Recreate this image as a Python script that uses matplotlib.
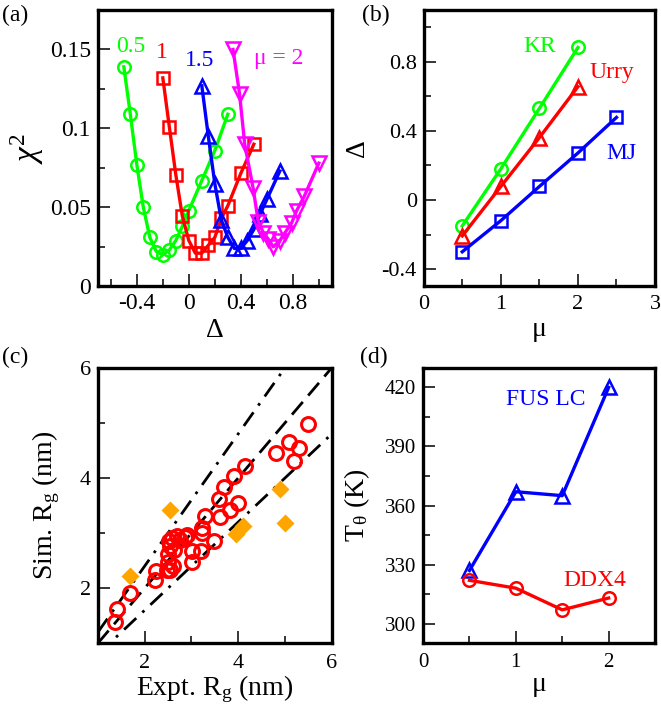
import matplotlib
matplotlib.use('Agg')
import matplotlib.pyplot as plt
from matplotlib.ticker import MultipleLocator

plt.rcParams['font.family'] = ['Liberation Serif', 'DejaVu Serif']
plt.rcParams['mathtext.fontset'] = 'custom'
plt.rcParams['mathtext.rm'] = 'Liberation Serif'
plt.rcParams['mathtext.it'] = 'Liberation Serif:italic'

GREEN = '#00ff00'
RED = '#ff0000'
BLUE = '#0000ff'
MAGENTA = '#ff00ff'
ORANGE = '#ffa500'

# (a) chi^2 vs Delta for different mu
delta_mu05 = [-0.5, -0.45, -0.4, -0.35, -0.3, -0.25, -0.2, -0.15, -0.1, -0.05, 0.0, 0.1, 0.2, 0.3]
chi2_mu05 = [0.139, 0.109, 0.077, 0.050, 0.031, 0.022, 0.020, 0.023, 0.029, 0.038, 0.048, 0.067, 0.086, 0.109]
delta_mu1 = [-0.2, -0.15, -0.1, -0.05, 0.0, 0.05, 0.1, 0.15, 0.2, 0.25, 0.3, 0.4, 0.5]
chi2_mu1 = [0.132, 0.101, 0.0706, 0.0445, 0.029, 0.021, 0.021, 0.026, 0.031, 0.043, 0.051, 0.0716, 0.090]
delta_mu15 = [0.1, 0.15, 0.2, 0.25, 0.3, 0.35, 0.4, 0.45, 0.5, 0.55, 0.6, 0.7]
chi2_mu15 = [0.127, 0.095, 0.065, 0.042, 0.031, 0.024, 0.024, 0.029, 0.036, 0.046, 0.055, 0.073]
delta_mu2 = [0.34, 0.39, 0.43, 0.495, 0.534, 0.573, 0.61, 0.65, 0.70, 0.74, 0.79, 0.83, 0.888, 1.0]
chi2_mu2 = [0.150, 0.122, 0.090, 0.062, 0.041, 0.034, 0.030, 0.025, 0.029, 0.034, 0.040, 0.048, 0.057, 0.078]

# (b) optimal Delta vs mu for three hydropathy scales
mu_kr = [0.5, 1.0, 1.5, 2.0]
delta_kr = [-0.15, 0.18, 0.53, 0.883]
mu_urry = [0.5, 1.0, 1.5, 2.0]
delta_urry = [-0.208, 0.078, 0.361, 0.656]
mu_mj = [0.5, 1.0, 1.5, 2.0, 2.5]
delta_mj = [-0.30, -0.12, 0.078, 0.272, 0.478]

# (c) simulated vs experimental Rg
rg_expt = [1.36, 1.41, 1.68, 2.22, 2.24, 2.47, 2.50, 2.50, 2.52, 2.54, 2.54, 2.58, 2.61, 2.62, 2.69,
           2.75, 2.86, 2.90, 3.01, 3.01, 3.20, 3.22, 3.22, 3.29, 3.49, 3.58, 3.62, 3.70, 3.82, 3.90,
           3.99, 4.15, 4.80, 5.09, 5.19, 5.30, 5.49]
rg_sim = [1.39, 1.62, 1.92, 2.15, 2.31, 2.33, 2.48, 2.62, 2.85, 2.76, 2.33, 2.91, 2.40, 2.70, 2.95,
          2.88, 2.92, 2.97, 2.67, 2.48, 2.67, 3.09, 3.00, 3.31, 2.85, 3.61, 3.30, 3.84, 3.42, 4.03,
          3.55, 4.21, 4.45, 4.65, 4.31, 4.55, 4.97]
rg_expt_other = [1.68, 2.54, 3.96, 4.10, 4.89, 4.99]
rg_sim_other = [2.23, 3.41, 2.99, 3.12, 3.80, 3.19]

# (d) theta temperature vs mu
mu_t = [0.5, 1.0, 1.5, 2.0]
t_fus = [327, 367, 365, 420]
t_ddx4 = [322, 318, 307, 313]


def style_axis(ax, fontsize, xpad, ypad):
    for sp in ax.spines.values():
        sp.set_linewidth(2.4)
    ax.tick_params(which='both', direction='in', top=False, right=False, width=1.1)
    ax.tick_params(which='major', length=8.5, labelsize=fontsize)
    ax.tick_params(which='minor', length=5)
    ax.tick_params(axis='x', pad=xpad)
    ax.tick_params(axis='y', pad=ypad)


def draw_panel_a(ax):
    kw = dict(lw=2.4, mfc='none', mew=1.8)
    ax.plot(delta_mu05, chi2_mu05, '-o', color=GREEN, ms=9, **kw)
    ax.plot(delta_mu1, chi2_mu1, '-s', color=RED, ms=8, **kw)
    ax.plot(delta_mu15, chi2_mu15, '-^', color=BLUE, ms=10, **kw)
    ax.plot(delta_mu2, chi2_mu2, '-v', color=MAGENTA, ms=10, **kw)
    ax.set_xlim(-0.7, 1.1)
    ax.set_ylim(0, 0.175)
    ax.xaxis.set_minor_locator(MultipleLocator(0.2))
    ax.yaxis.set_minor_locator(MultipleLocator(0.025))
    ax.set_yticks([0, 0.05, 0.1, 0.15])
    ax.set_yticklabels(['0', '0.05', '0.1', '0.15'])
    ax.set_xticks([-0.4, 0, 0.4, 0.8])
    ax.set_xticklabels(['-0.4', '0', '0.4', '0.8'])
    style_axis(ax, 17, 5, 5)
    ax.text(-0.45, 0.152, '0.5', color=GREEN, fontsize=17, ha='center', va='center')
    ax.text(-0.21, 0.148, '1', color=RED, fontsize=17, ha='center', va='center')
    ax.text(0.08, 0.143, '1.5', color=BLUE, fontsize=17, ha='center', va='center')
    ax.text(0.69, 0.144, 'μ = 2', color=MAGENTA, fontsize=17, ha='center', va='center')
    ax.set_xlabel('Δ', fontsize=20)
    ax.set_ylabel(r'$\chi^2$', fontsize=24)
    ax.xaxis.set_label_coords(0.5, -0.115)
    ax.yaxis.set_label_coords(-0.22, 0.5)


def draw_panel_b(ax):
    kw = dict(lw=2.4, mfc='none', mew=1.8)
    ax.plot(mu_kr, delta_kr, '-o', color=GREEN, ms=9, **kw)
    ax.plot(mu_urry, delta_urry, '-^', color=RED, ms=10, **kw)
    ax.plot(mu_mj, delta_mj, '-s', color=BLUE, ms=8, **kw)
    ax.set_xlim(0, 3)
    ax.set_ylim(-0.5, 1.1)
    ax.xaxis.set_major_locator(MultipleLocator(1))
    ax.xaxis.set_minor_locator(MultipleLocator(0.5))
    ax.set_yticks([-0.4, 0, 0.4, 0.8])
    ax.set_yticklabels(['-0.4', '0', '0.4', '0.8'])
    ax.yaxis.set_minor_locator(MultipleLocator(0.2))
    style_axis(ax, 16, 6, 5)
    ax.text(1.51, 0.89, 'KR', color=GREEN, fontsize=17, ha='center', va='center')
    ax.text(2.44, 0.74, 'Urry', color=RED, fontsize=17, ha='center', va='center')
    ax.text(2.57, 0.27, 'MJ', color=BLUE, fontsize=17, ha='center', va='center')
    ax.set_xlabel('μ', fontsize=20)
    ax.set_ylabel('Δ', fontsize=20)
    ax.xaxis.set_label_coords(0.5, -0.11)
    ax.yaxis.set_label_coords(-0.23, 0.5)


def draw_panel_c(ax):
    ref = [1, 6]
    ax.plot(ref, [v * 1.2 for v in ref], color='k', lw=2, ls=(0, (6, 3, 1, 3)))
    ax.plot(ref, ref, color='k', lw=2, ls=(0, (6, 3)))
    ax.plot(ref, [v * 0.8 for v in ref], color='k', lw=2, ls=(0, (6, 3, 1, 3)))
    ax.plot(rg_expt_other, rg_sim_other, 'D', color=ORANGE, ms=9, mec='none')
    ax.plot(rg_expt, rg_sim, 'o', color=RED, ms=10, mfc='none', mew=2.2)
    ax.set_xlim(1, 6)
    ax.set_ylim(1, 6)
    ax.xaxis.set_major_locator(MultipleLocator(2))
    ax.xaxis.set_minor_locator(MultipleLocator(1))
    ax.yaxis.set_major_locator(MultipleLocator(2))
    ax.yaxis.set_minor_locator(MultipleLocator(1))
    style_axis(ax, 16, 8, 5)
    ax.set_xlabel(r'Expt. R$_\mathrm{g}$ (nm)', fontsize=20)
    ax.set_ylabel(r'Sim. R$_\mathrm{g}$ (nm)', fontsize=20)
    ax.xaxis.set_label_coords(0.5, -0.11)
    ax.yaxis.set_label_coords(-0.155, 0.5)


def draw_panel_d(ax):
    kw = dict(lw=2.4, mfc='none', mew=1.8)
    ax.plot(mu_t, t_fus, '-^', color=BLUE, ms=10, **kw)
    ax.plot(mu_t, t_ddx4, '-o', color=RED, ms=9, **kw)
    ax.set_xlim(0, 2.5)
    ax.set_ylim(290, 430)
    ax.xaxis.set_major_locator(MultipleLocator(1))
    ax.xaxis.set_minor_locator(MultipleLocator(0.5))
    ax.yaxis.set_major_locator(MultipleLocator(30))
    ax.yaxis.set_minor_locator(MultipleLocator(15))
    style_axis(ax, 15, 7, 5)
    ax.text(1.32, 414, 'FUS LC', color=BLUE, fontsize=17, ha='center', va='center')
    ax.text(1.85, 322, 'DDX4', color=RED, fontsize=17, ha='center', va='center')
    ax.set_xlabel('μ', fontsize=20)
    ax.set_ylabel(r'T$_\mathrm{\theta}$ (K)', fontsize=20)
    ax.xaxis.set_label_coords(0.5, -0.105)
    ax.yaxis.set_label_coords(-0.22, 0.5)


if __name__ == '__main__':
    fig = plt.figure(figsize=(6.61, 7.14), dpi=100)
    ax_a = fig.add_axes([0.148, 0.599, 0.354, 0.387])
    ax_b = fig.add_axes([0.641, 0.599, 0.350, 0.387])
    ax_c = fig.add_axes([0.148, 0.099, 0.354, 0.386])
    ax_d = fig.add_axes([0.640, 0.099, 0.351, 0.386])

    draw_panel_a(ax_a)
    draw_panel_b(ax_b)
    draw_panel_c(ax_c)
    draw_panel_d(ax_d)

    # panel tags
    fig.text(0.003, 0.979, '(a)', fontsize=17, va='center')
    fig.text(0.547, 0.979, '(b)', fontsize=17, va='center')
    fig.text(0.003, 0.499, '(c)', fontsize=17, va='center')
    fig.text(0.545, 0.499, '(d)', fontsize=17, va='center')

    fig.savefig('out.png', dpi=100)
    plt.close()
